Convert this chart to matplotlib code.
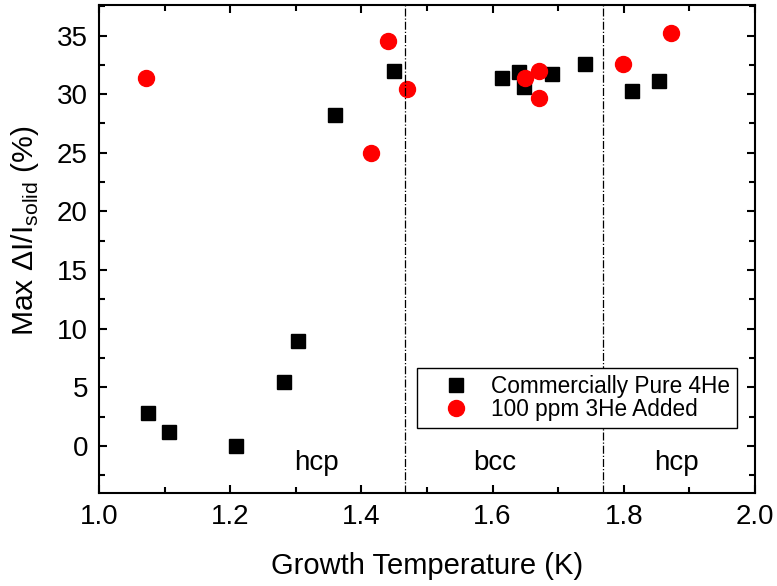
import matplotlib
matplotlib.use("Agg")
import matplotlib.pyplot as plt
from matplotlib.ticker import MultipleLocator

plt.rcParams['font.family'] = ['Liberation Sans', 'DejaVu Sans']
plt.rcParams['mathtext.fontset'] = 'custom'
plt.rcParams['mathtext.rm'] = 'Liberation Sans'

# commercially pure 4He
pure_t = [1.075, 1.107, 1.209, 1.282, 1.303, 1.360, 1.449, 1.614, 1.641, 1.648, 1.690, 1.741, 1.812, 1.854]
pure_v = [2.8, 1.2, 0.0, 5.5, 9.0, 28.2, 32.0, 31.4, 31.9, 30.6, 31.7, 32.6, 30.3, 31.1]

# 100 ppm 3He added
he3_t = [1.071, 1.415, 1.440, 1.470, 1.649, 1.670, 1.670, 1.799, 1.872]
he3_v = [31.4, 25.0, 34.5, 30.4, 31.4, 32.0, 29.7, 32.6, 35.2]

phase_lines = [1.467, 1.769]
phase_labels = [(1.332, "hcp"), (1.604, "bcc"), (1.881, "hcp")]

fig = plt.figure(figsize=(7.77, 5.86), dpi=100)
ax = fig.add_axes([99/777, 1-493/586, (755-99)/777, (493-5)/586])

ax.plot(pure_t, pure_v, 's', color='black', ms=10, label='Commercially Pure 4He')
ax.plot(he3_t, he3_v, 'o', color='red', ms=11.5, label='100 ppm 3He Added')

for x in phase_lines:
    ax.axvline(x, color='black', ls='-.', lw=0.9)
for x, s in phase_labels:
    ax.text(x, -1.45, s, ha='center', va='center', fontsize=20)

ax.set_xlim(1.0, 2.0)
ax.set_ylim(-4.0, 37.6)
ax.xaxis.set_major_locator(MultipleLocator(0.2))
ax.xaxis.set_minor_locator(MultipleLocator(0.1))
ax.yaxis.set_major_locator(MultipleLocator(5))
ax.yaxis.set_minor_locator(MultipleLocator(2.5))
ax.tick_params(which='both', direction='in', top=True, right=True, width=1.5, labelsize=20)
ax.tick_params(which='major', length=6, pad=8)
ax.tick_params(which='minor', length=4)
for sp in ax.spines.values():
    sp.set_linewidth(1.5)

ax.set_xlabel("Growth Temperature (K)", fontsize=21, labelpad=16)
ax.set_ylabel(r"Max $\Delta$I/I$_{\mathrm{solid}}$ (%)", fontsize=21.7)
ax.yaxis.set_label_coords(-0.089, 0.537)

leg = ax.legend(loc='lower right', bbox_to_anchor=(737/656 - 99/656, 1-(428-5)/488),
                fontsize=16.3, fancybox=False, framealpha=1, edgecolor='black',
                borderaxespad=0, handlelength=2.9, handletextpad=0.1,
                borderpad=0.3, labelspacing=0.0)
leg.get_frame().set_linewidth(1.0)

fig.savefig("out.png", dpi=100)
